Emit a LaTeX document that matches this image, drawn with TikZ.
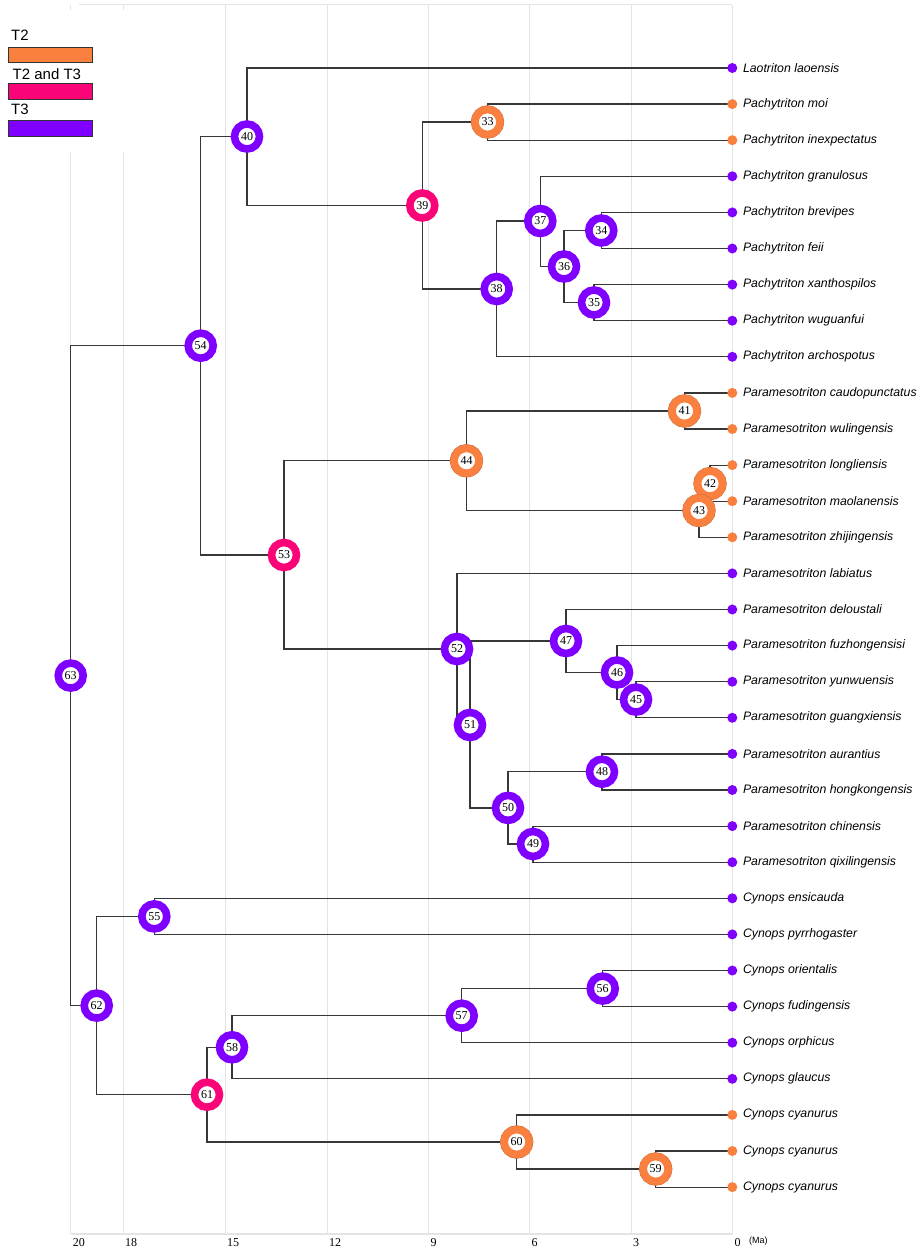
\documentclass[tikz,border=0pt]{standalone}
\usepackage{fontspec}
\setmainfont{Liberation Sans}
\newfontfamily\serifnum{Liberation Serif}
\usetikzlibrary{calc}
\definecolor{tTwo}{RGB}{250,128,64}
\definecolor{tBoth}{RGB}{250,5,120}
\definecolor{tThree}{RGB}{128,0,255}
\definecolor{branch}{RGB}{55,55,55}
\definecolor{gridgray}{RGB}{228,228,228}
\tikzset{
	branchline/.style={draw=branch, line width=1.2pt},
	ring/.style={circle, draw=#1, line width=7.6pt, fill=white, minimum size=25pt, inner sep=0pt, text=black, font=\serifnum\fontsize{12}{12}\selectfont},
	ringTwo/.style={ring=tTwo, preaction={draw=tTwo!75!black, line width=8.3pt}},
	ringBoth/.style={ring=tBoth},
	ringThree/.style={ring=tThree},
	tipdot/.style={circle, fill=#1, minimum size=10pt, inner sep=0pt},
	tiplabel/.style={anchor=west, inner sep=0pt, font=\fontsize{12.3}{14}\selectfont\itshape},
	legendbar/.style={draw=black!80, line width=0.9pt, fill=#1},
	legendtext/.style={anchor=west, inner sep=0pt, font=\fontsize{15}{15}\selectfont},
	ticklabel/.style={anchor=west, inner sep=0pt, font=\serifnum\fontsize{12}{12}\selectfont}
}
\def\tiplist{Laotriton laoensis/tThree, Pachytriton moi/tTwo, Pachytriton inexpectatus/tTwo,
	Pachytriton granulosus/tThree, Pachytriton brevipes/tThree, Pachytriton feii/tThree,
	Pachytriton xanthospilos/tThree, Pachytriton wuguanfui/tThree, Pachytriton archospotus/tThree,
	Paramesotriton caudopunctatus/tTwo, Paramesotriton wulingensis/tTwo, Paramesotriton longliensis/tTwo,
	Paramesotriton maolanensis/tTwo, Paramesotriton zhijingensis/tTwo, Paramesotriton labiatus/tThree,
	Paramesotriton deloustali/tThree, Paramesotriton fuzhongensisi/tThree, Paramesotriton yunwuensis/tThree,
	Paramesotriton guangxiensis/tThree, Paramesotriton aurantius/tThree, Paramesotriton hongkongensis/tThree,
	Paramesotriton chinensis/tThree, Paramesotriton qixilingensis/tThree, Cynops ensicauda/tThree,
	Cynops pyrrhogaster/tThree, Cynops orientalis/tThree, Cynops fudingensis/tThree,
	Cynops orphicus/tThree, Cynops glaucus/tThree, Cynops cyanurus/tTwo,
	Cynops cyanurus/tTwo, Cynops cyanurus/tTwo}
\begin{document}
\begin{tikzpicture}[x=1pt, y=-1pt]
	%%%%% START %%%%%
	\useasboundingbox (0, 0) rectangle (919, 1252);
	\fill[white] (0, 0) rectangle (919, 1252);
	
	%%%%% time grid %%%%%
	\foreach \gx in {70.7, 123, 225, 327, 428.3, 529.5, 631, 732.3}
		\draw[gridgray, line width=1pt] (\gx, 5) -- (\gx, 1234);
	\draw[gridgray, line width=1pt] (79, 5) -- (732.3, 5);
	\draw[gridgray, line width=2pt] (70.7, 1234) -- (732.3, 1234);
	\foreach \gx/\lab in {70.7/20, 123/18, 225/15, 327/12, 428.3/9, 529.5/6, 631/3, 732.3/0}
		\node[ticklabel] (tick\lab) at (\gx+2, 1243) {\lab};
	\node[anchor=west, inner sep=0pt, font=\fontsize{9}{9}\selectfont] (ma) at (749, 1241) {(Ma)};
	
	%%%%% legend %%%%%
	\fill[white] (0, 10) rectangle (150, 152);
	\node[legendtext] (legTwo) at (11, 35) {T2};
	\draw[legendbar=tTwo] (8, 47.3) rectangle (92.3, 62);
	\node[legendtext] (legBoth) at (12.5, 74) {T2 and T3};
	\draw[legendbar=tBoth] (8, 83.3) rectangle (92.3, 99);
	\node[legendtext] (legThree) at (11, 109) {T3};
	\draw[legendbar=tThree] (8, 120.3) rectangle (92.3, 136);
	
	%%%%% positions %%%%%
	\foreach \lab/\col [count=\i] in \tiplist
		\coordinate (t\i) at (732.3, {68+(\i-1)*36.1});
	\foreach \k/\x/\y in {33/487.5/122, 34/601.3/230.5, 35/594/302.5, 36/564/266.5, 37/540.3/221,
		38/496.7/289, 39/422.3/205.5, 40/247/136.5, 41/684.5/411, 42/710/483.6, 43/699/510.5,
		44/466.5/460.8, 45/636/699.6, 46/617/672.5, 47/566/641, 48/602/771.7, 49/533/844,
		50/508/807.9, 51/470/725, 52/457/649, 53/284/555, 54/200.7/345.7, 55/154.3/916.4,
		56/602.7/988.6, 57/461.7/1015.7, 58/232/1047.3, 59/655.7/1169, 60/516.7/1142,
		61/207/1094.7, 62/96.7/1005.6, 63/70.7/675.6}
		\coordinate (c\k) at (\x, \y);
	
	%%%%% branches %%%%%
	\draw[branchline] (c63) |- (c54) (c63) |- (c62);
	\draw[branchline] (c54) |- (c40) (c54) |- (c53);
	\draw[branchline] (c40) |- (t1) (c40) |- (c39);
	\draw[branchline] (c39) |- (c33) (c39) |- (c38);
	\draw[branchline] (c33) |- (t2) (c33) |- (t3);
	\draw[branchline] (c38) |- (c37) (c38) |- (t9);
	\draw[branchline] (c37) |- (t4) (c37) |- (c36);
	\draw[branchline] (c36) |- (c34) (c36) |- (c35);
	\draw[branchline] (c34) |- (t5) (c34) |- (t6);
	\draw[branchline] (c35) |- (t7) (c35) |- (t8);
	\draw[branchline] (c53) |- (c44) (c53) |- (c52);
	\draw[branchline] (c44) |- (c41) (c44) |- (c43);
	\draw[branchline] (c41) |- (t10) (c41) |- (t11);
	\draw[branchline] (c43) |- (c42) (c43) |- (t14);
	\draw[branchline] (c42) |- (t12) (c42) |- (t13);
	\draw[branchline] (c52) |- (t15) (c52) -- (c52 |- c51);
	\draw[branchline] (c52 |- c47) -- (c47);
	\draw[branchline] (c51 |- c52) |- (c50);
	\draw[branchline] (c47) |- (t16) (c47) |- (c46);
	\draw[branchline] (c46) |- (t17) (c46) |- (c45);
	\draw[branchline] (c45) |- (t18) (c45) |- (t19);
	\draw[branchline] (c50) |- (c48) (c50) |- (c49);
	\draw[branchline] (c48) |- (t20) (c48) |- (t21);
	\draw[branchline] (c49) |- (t22) (c49) |- (t23);
	\draw[branchline] (c62) |- (c55) (c62) |- (c61);
	\draw[branchline] (c55) |- (t24) (c55) |- (t25);
	\draw[branchline] (c61) |- (c58) (c61) |- (c60);
	\draw[branchline] (c58) |- (c57) (c58) |- (t29);
	\draw[branchline] (c57) |- (c56) (c57) |- (t28);
	\draw[branchline] (c56) |- (t26) (c56) |- (t27);
	\draw[branchline] (c60) |- (t30) (c60) |- (c59);
	\draw[branchline] (c59) |- (t31) (c59) |- (t32);
	
	%%%%% tips %%%%%
	\foreach \lab/\col [count=\i] in \tiplist {
		\node[tipdot=\col] (dot\i) at (t\i) {};
		\node[tiplabel] (name\i) at ([xshift=10.5pt]t\i) {\lab};
	}
	
	%%%%% ancestral nodes %%%%%
	\foreach \k/\sty in {33/ringTwo, 34/ringThree, 35/ringThree, 36/ringThree, 37/ringThree,
		38/ringThree, 39/ringBoth, 40/ringThree, 41/ringTwo, 42/ringTwo, 43/ringTwo, 44/ringTwo,
		46/ringThree, 45/ringThree, 47/ringThree, 48/ringThree, 49/ringThree, 50/ringThree,
		51/ringThree, 52/ringThree, 53/ringBoth, 54/ringThree, 55/ringThree, 56/ringThree,
		57/ringThree, 58/ringThree, 59/ringTwo, 60/ringTwo, 61/ringBoth, 62/ringThree, 63/ringThree}
		\node[\sty] (n\k) at (c\k) {\k};
	
	%%%%% END %%%%%
\end{tikzpicture}
\end{document}
